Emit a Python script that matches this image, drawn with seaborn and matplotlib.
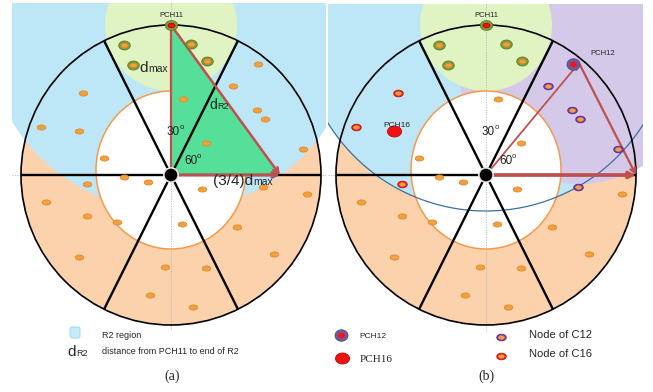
import numpy as np
import pandas as pd
import matplotlib
matplotlib.use("Agg")
import matplotlib.pyplot as plt
import seaborn as sns
from matplotlib.patches import Circle, Ellipse, Polygon, Rectangle, FancyArrowPatch, FancyBboxPatch
from matplotlib.path import Path

sns.set_theme(style="white")
plt.rcParams["font.family"] = ["Liberation Sans", "DejaVu Sans"]

# ---------------------------------------------------------------------------
# Geometry of the two rings (pixel units, y measured upward from ring centre)
# ---------------------------------------------------------------------------
CENTRES = {"a": (171, 175), "b": (486, 175)}
PANEL_BOX = {"a": (12, 3, 326, 330), "b": (328, 4, 643, 330)}
R_OUTER = 150
INNER_W, INNER_H, INNER_DY = 150, 158, 5
SECTOR_ANGLES = [0, 63.5, 116.5, 180, 243.5, 296.5]
D_MAX = 66          # neighbourhood radius of PCH11
R2_RADIUS = 186     # reach of region R2 measured from PCH11
C12_RADIUS = 121    # reach of cluster C12 measured from PCH12

PCH11 = (0, 150)
PCH12 = (93, 112)
PCH16 = (-93, 41)
TIP_A = (109, 0)    # (3/4) d_max along the horizontal axis
TIP_B = (150, 0)

# Sensor nodes (same deployment in both panels)
node_x = [87, 62, 12, 86, 94, -88, -130, -92, 35, 132, -67, -47, -23, -84, 31,
          92, 136, -125, -84, -54, 11, 66, -92, 103, -6, 35, -21, 22,
          -47, -38, 20, 36, 0]
node_y = [111, 89, 76, 65, 56, 82, 48, 44, 32, 26, 17, -2, -7, -9, -14,
          -12, -19, -27, -41, -47, -49, -52, -82, -79, -92, -93, -120, -132,
          130, 110, 131, 114, 150]
role_a = ["other"] * 28 + ["C11"] * 4 + ["PCH11"]
role_b = list(role_a)
role_b[0] = "PCH12"
for i in (1, 3, 4, 9, 15):
    role_b[i] = "C12"
role_b[7] = "PCH16"
for i in (5, 6, 13):
    role_b[i] = "C16"

nodes = pd.DataFrame({"x": node_x, "y": node_y, "role_a": role_a, "role_b": role_b})

# marker layers: (width px, aspect, face, edge)
ORANGE = "#f5a03a"
STYLE = {
    "other": [(8.5, 0.6, ORANGE, "#dc8a30")],
    "C11": [(11.5, 0.78, "#7f9d38", "#5d7b22"), (7, 0.6, ORANGE, "#e08a2a")],
    "PCH11": [(12.5, 0.78, "#7f9d38", "#5d7b22"), (7, 0.65, "#e8141a", "#c00000")],
    "C12": [(9.5, 0.7, "#7a3eae", "#5a2888"), (5.5, 0.6, ORANGE, ORANGE)],
    "C16": [(9.5, 0.7, "#ee1c1c", "#c81010"), (5.5, 0.6, ORANGE, ORANGE)],
    "PCH12": [(13, 0.88, "#6a5c9e", "#524588"), (6, 0.8, "#ff1010", "#ff1010")],
    "PCH16": [(14, 0.78, "#f01010", "#cc0000")],
}

C_BLUE = "#bde7f7"
C_PEACH = "#fcd2ad"
C_GREEN = "#e0f3c2"
C_TRI = "#55df99"
C_PURPLE = "#d5c9ea"
C_ARROW = "#c0504d"


def ellipse_marker(aspect):
    t = np.linspace(0, 2 * np.pi, 60)
    return Path(np.column_stack([np.cos(t), aspect * np.sin(t)]), closed=True)


def to_px(panel, x, y):
    cx, cy = CENTRES[panel]
    return cx + np.asarray(x, dtype=float), cy - np.asarray(y, dtype=float)


fig = plt.figure(figsize=(6.53, 3.92), dpi=100)
ax = fig.add_axes([0, 0, 1, 1])
ax.set_xlim(0, 653)
ax.set_ylim(392, 0)
ax.set_axis_off()
renderer = fig.canvas.get_renderer()


def draw_marker(px, py, role, z=9):
    for w, asp, face, edge in STYLE[role]:
        sns.scatterplot(x=np.atleast_1d(px), y=np.atleast_1d(py), ax=ax,
                        marker=ellipse_marker(asp), s=(w * 0.72) ** 2,
                        color=face, edgecolor=edge, linewidth=0.6,
                        zorder=z, legend=False)
        z += 0.1


def word(x, y, big, small, big_size, small_size, small_dy=0, **kw):
    """Large glyph followed by a smaller suffix sharing its baseline."""
    t = ax.text(x, y, big, fontsize=big_size, ha="left", va="baseline", zorder=12, **kw)
    bb = t.get_window_extent(renderer=renderer)
    xr = ax.transData.inverted().transform((bb.x1, bb.y0))[0]
    ax.text(xr + 0.3, y - small_dy, small, fontsize=small_size, ha="left",
            va="baseline", zorder=12, **kw)


def arrow(p0, p1, lw, head=True):
    style = "->" if head else "-"
    ax.add_patch(FancyArrowPatch(p0, p1, arrowstyle=style, mutation_scale=9,
                                 color=C_ARROW, lw=lw, shrinkA=0, shrinkB=0,
                                 zorder=8))


for panel in ("a", "b"):
    cx, cy = CENTRES[panel]
    x0, y0, x1, y1 = PANEL_BOX[panel]
    clip = Rectangle((x0, y0), x1 - x0, y1 - y0, transform=ax.transData)

    ax.add_patch(Circle((cx, cy), R_OUTER, fc=C_PEACH, ec="none", zorder=1))
    blue = Circle(to_px(panel, *PCH11), R2_RADIUS, fc=C_BLUE, ec="none", zorder=2)
    ax.add_patch(blue)
    blue.set_clip_path(clip)
    if panel == "b":
        purple = Circle(to_px(panel, *PCH12), C12_RADIUS, fc=C_PURPLE, ec="none", zorder=2.5)
        ax.add_patch(purple)
        purple.set_clip_path(clip)
    green = Circle(to_px(panel, *PCH11), D_MAX, fc=C_GREEN, ec="none", zorder=3)
    ax.add_patch(green)
    green.set_clip_path(clip)
    ax.add_patch(Ellipse((cx, cy - INNER_DY), INNER_W, INNER_H, fc="white",
                         ec="#f39a4c", lw=1.1, zorder=4))
    if panel == "a":
        tri = np.column_stack(to_px("a", [PCH11[0], 0, TIP_A[0]], [PCH11[1], 0, TIP_A[1]]))
        ax.add_patch(Polygon(tri, closed=True, fc=C_TRI, ec="none", zorder=5))
    else:
        edge = Circle(to_px(panel, *PCH11), R2_RADIUS, fill=False, ec="#3d6f9f",
                      lw=0.9, zorder=5)
        ax.add_patch(edge)
        edge.set_clip_path(clip)

    # faint reference axes
    ax.plot([x0, x1 if panel == "a" else x0 + 18], [cy, cy], color="#b5b5b5",
            lw=0.6, ls=(0, (1.5, 1.5)), zorder=5.5)
    ax.plot([cx, cx], [y0, y1], color="#b5b5b5", lw=0.6, ls=(0, (1.5, 1.5)), zorder=5.5)

    # sectors and outer ring
    for ang in SECTOR_ANGLES:
        ex, ey = to_px(panel, R_OUTER * np.cos(np.radians(ang)), R_OUTER * np.sin(np.radians(ang)))
        ax.plot([cx, ex], [cy, ey], color="black", lw=1.7, zorder=6, solid_capstyle="butt")
    ax.add_patch(Circle((cx, cy), R_OUTER, fill=False, ec="black", lw=1.2, zorder=6))

    # distance arrows
    if panel == "a":
        arrow(to_px("a", *PCH11), (cx, cy), 1.6, head=False)
        arrow(to_px("a", *PCH11), to_px("a", *TIP_A), 1.8)
        arrow((cx, cy), to_px("a", *TIP_A), 2.0)
    else:
        arrow((cx, cy), to_px("b", *PCH12), 1.3)
        arrow(to_px("b", *PCH12), to_px("b", *TIP_B), 1.6)
        arrow((cx, cy), to_px("b", *TIP_B), 2.6)

    ax.add_patch(Circle((cx, cy), 8, fc="#e6e6e6", ec="none", zorder=8.5))
    ax.add_patch(Circle((cx, cy), 6.3, fc="black", ec="none", zorder=8.6))

    roles = nodes["role_" + panel]
    for role in STYLE:
        sub = nodes[roles == role]
        if len(sub):
            px, py = to_px(panel, sub["x"], sub["y"])
            draw_marker(px, py, role)

    # angle labels
    ax.text(cx - 4, cy - 40, "30", fontsize=8.5, ha="left", va="baseline", zorder=12, color="#222222")
    ax.text(cx + 9, cy - 46, "o", fontsize=5.5, ha="left", va="baseline", zorder=12, color="#222222")
    ax.text(cx + 13, cy - 11, "60", fontsize=8.5, ha="left", va="baseline", zorder=12, color="#222222")
    ax.text(cx + 26, cy - 17, "o", fontsize=5.5, ha="left", va="baseline", zorder=12, color="#222222")

    ax.text(cx, 15, "PCH11", fontsize=5.5, ha="center", va="center", zorder=12)

# text annotations of panel (a)
word(139, 72, "d", "max", 11, 7.5)
word(209, 109, "d", "R2", 10, 6.5)
word(213, 185, "(3/4)d", "max", 11, 7.5)

# text annotations of panel (b)
ax.text(603, 53, "PCH12", fontsize=5.5, ha="center", va="center", zorder=12)
ax.text(397, 125, "PCH16", fontsize=6, ha="center", va="center", zorder=12)

# legend of panel (a)
ax.add_patch(FancyBboxPatch((70, 327), 10, 11, boxstyle="round,pad=0,rounding_size=2",
                            fc="#c6ecfa", ec="#9dd4ea", lw=0.6, zorder=10))
ax.text(102, 336, "R2 region", fontsize=6.5, ha="left", va="center", zorder=12)
word(67, 356, "d", "R2", 11, 6.5)
ax.text(102, 352, "distance from PCH11 to end of R2", fontsize=6.5, ha="left",
        va="center", zorder=12)

# legend of panel (b)
draw_marker(341, 335, "PCH12")
ax.text(359, 337, "PCH12", fontsize=6, ha="left", va="center", zorder=12)
draw_marker(342, 358, "PCH16")
ax.text(360, 360, "PCH16", fontsize=8, ha="left", va="center", zorder=12,
        family=["Liberation Serif", "DejaVu Serif"])
draw_marker(501, 337, "C12")
ax.text(529, 335, "Node of C12", fontsize=8, ha="left", va="center", zorder=12)
draw_marker(501, 356, "C16")
ax.text(529, 354, "Node of C16", fontsize=8, ha="left", va="center", zorder=12)

# panel captions
for lab, x in (("(a)", 172), ("(b)", 486)):
    ax.text(x, 376, lab, fontsize=10, ha="center", va="center", zorder=12,
            family=["Liberation Serif", "DejaVu Serif"])

ax.set_xlim(0, 653)
ax.set_ylim(392, 0)
fig.savefig("out.png", dpi=100)
